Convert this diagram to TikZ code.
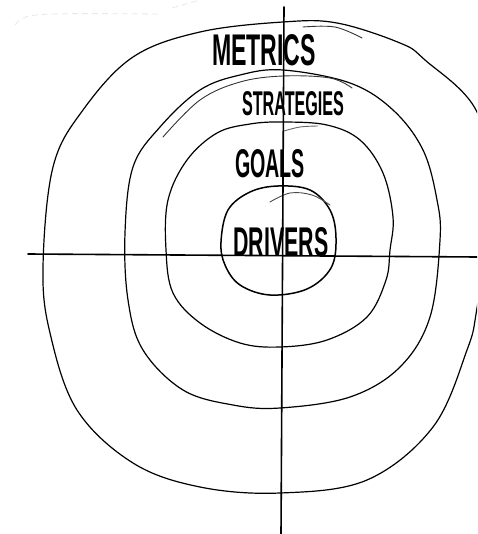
\documentclass[tikz,border=0pt]{standalone}
\usepackage{fontspec}
\setmainfont{Liberation Sans}
\usepackage{graphicx}
\begin{document}
\begin{tikzpicture}[x=1pt,y=-1pt,
  ring/.style={line width=1.2pt, line join=round, line cap=round},
  extra/.style={line width=0.9pt, line cap=round, black!80},
  axis/.style={line width=1.6pt, line cap=round},
  faint/.style={line width=0.8pt, gray!18, dash pattern=on 6pt off 4pt},
  lbl/.style={inner sep=0pt, font=\bfseries}]
\clip (0,0) rectangle (477,534);
\fill[white] (0,0) rectangle (477,534);
% faint stroke top-left
\coordinate (f1) at (15,25);
\coordinate (f2) at (160,14);
\coordinate (f3) at (172,8);
\coordinate (f4) at (200,0);
\draw[faint] (f1) .. controls (25,13) .. (f2);
\draw[faint] (f3) -- (f4);
% metrics ring
\draw[ring] plot[smooth cycle, tension=0.6] coordinates {
 (283,22) (337,23) (400,43) (425,60) (477,112) (492,200) (477,308)
 (467,350) (433,427) (367,480) (280,493) (200,487) (133,463) (77,410)
 (50,333) (43,267) (53,167) (83,110) (133,57) (200,32)};
\draw[extra] plot[smooth, tension=0.6] coordinates {(303,27) (335,27) (362,38)};
% strategies ring
\draw[ring] plot[smooth cycle, tension=0.6] coordinates {
 (283,70) (350,83) (393,110) (423,150) (437,200) (440,240) (430,317)
 (400,367) (350,397) (280,408) (233,405) (183,390) (143,350) (128,300)
 (125,233) (133,167) (160,127) (200,90) (240,75)};
\draw[extra] plot[smooth, tension=0.6] coordinates {(163,137) (200,100) (240,82) (283,76) (330,78) (352,88)};
% goals ring
\draw[ring] plot[smooth cycle, tension=0.6] coordinates {
 (283,122) (327,125) (360,140) (383,173) (393,217) (390,250) (386,280)
 (367,317) (327,340) (280,347) (240,343) (200,323) (173,293) (166,250)
 (168,200) (187,160) (217,133) (250,124)};
\draw[extra, black!60] plot[smooth, tension=0.6] coordinates {(284,131) (300,127) (318,126)};
% drivers ring
\draw[ring, line width=1.5pt] plot[smooth cycle, tension=0.6] coordinates {
 (278,186) (310,190) (330,210) (336,238) (331,268) (307,289) (270,295)
 (240,285) (225,265) (221,242) (228,210) (250,192)};
\draw[extra, black!70] plot[smooth, tension=0.6] coordinates {(270,202) (290,193) (312,195) (330,205)};
% axes
\coordinate (vt) at (284,7);
\coordinate (vb) at (281,534);
\coordinate (hl) at (28,254);
\coordinate (hr) at (477,257);
\draw[axis] (vt) -- (vb);
\draw[axis] (hl) -- (hr);
% labels
\node[lbl] (metrics) at (264,50) {\resizebox{104pt}{31pt}{METRICS}};
\node[lbl] (strategies) at (293,104) {\resizebox{102pt}{24pt}{STRATEGIES}};
\node[lbl] (goals) at (270,164) {\resizebox{70pt}{28pt}{GOALS}};
\node[lbl] (drivers) at (281,242) {\resizebox{95pt}{29pt}{DRIVERS}};
\end{tikzpicture}
\end{document}
